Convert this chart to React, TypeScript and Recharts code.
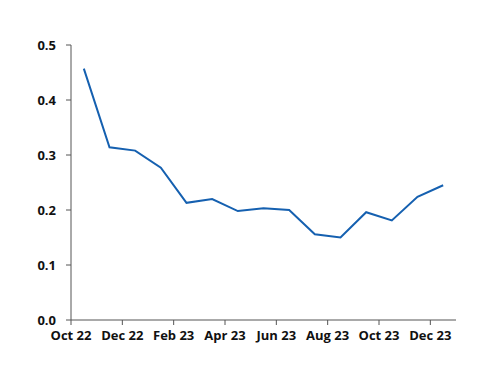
import { LineChart, Line, XAxis, YAxis } from "recharts"

// monthly values, Oct 22 .. Dec 23
const months = [
  "Oct 22", "Nov 22", "Dec 22", "Jan 23", "Feb 23", "Mar 23", "Apr 23", "May 23",
  "Jun 23", "Jul 23", "Aug 23", "Sep 23", "Oct 23", "Nov 23", "Dec 23",
]
const values = [
  0.457, 0.314, 0.308, 0.277, 0.213, 0.22, 0.198, 0.203,
  0.2, 0.156, 0.15, 0.196, 0.181, 0.224, 0.245,
]
const xTicks = [0, 2, 4, 6, 8, 10, 12, 14]
const yTicks = [0, 0.1, 0.2, 0.3, 0.4, 0.5]

// points sit in the middle of each month slot, ticks on slot edges
const data = months.map((m, i) => ({ x: i + 0.5, month: m, value: values[i] }))

const tickStyle = { fontFamily: "Open Sans", fontSize: 13, fontWeight: "bold", fill: "#111" }

export default function App() {
  return (
    <div style={{ position: "absolute", left: 0, top: 0, background: "#fff" }}>
      <LineChart width={500} height={386} data={data} margin={{ top: 45, right: 44, bottom: 36, left: 11 }}>
        <XAxis
          dataKey="x"
          type="number"
          domain={[0, 15]}
          ticks={xTicks}
          tickFormatter={(v) => months[v]}
          interval={0}
          height={30}
          tick={tickStyle}
          tickSize={5}
          tickMargin={6}
          stroke="#555"
        />
        <YAxis
          domain={[0, 0.5]}
          ticks={yTicks}
          tickFormatter={(v) => v.toFixed(1)}
          width={60}
          tick={tickStyle}
          tickSize={5}
          tickMargin={10}
          stroke="#555"
        />
        <Line
          dataKey="value"
          stroke="#1560b0"
          strokeWidth={2}
          dot={false}
          isAnimationActive={false}
        />
      </LineChart>
    </div>
  )
}
